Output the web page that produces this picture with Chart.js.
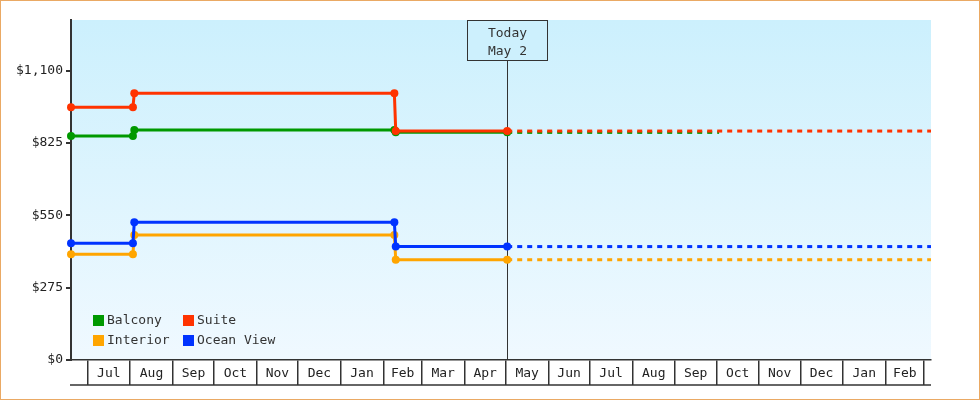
<!DOCTYPE html>
<html>
<head>
<meta charset="utf-8">
<title>Cabin prices</title>
<script src="https://cdn.jsdelivr.net/npm/chart.js@4.4.0/dist/chart.umd.min.js"></script>
<style>
	html, body { margin: 0; padding: 0; background: #fff; }
	#wrap { width: 980px; height: 400px; }
</style>
</head>
<body>
<div id="wrap"><canvas id="cabin-prices" width="980" height="400"></canvas></div>
<script>
"use strict";

// price history, one value per date for each cabin type
var priceDates = ['2017-06-19', '2017-08-03', '2017-08-04', '2018-02-09', '2018-02-10', '2018-05-02'];
var balcony    = [851, 851, 874, 874, 865, 865];
var suite      = [960, 960, 1014, 1014, 870, 870];
var interior   = [402, 402, 475, 475, 381, 381];
var oceanView  = [444, 444, 523, 523, 431, 431];

// dashed projection runs from today to these dates
var seriesNames     = ['Balcony', 'Suite', 'Interior', 'Ocean View'];
var forecastEnds    = ['2018-10-03', '2019-03-06', '2019-03-06', '2019-03-06'];

// axes
var axisStart   = '2017-06-19';
var axisEnd     = '2019-03-06';
var monthLabels = ['Jul', 'Aug', 'Sep', 'Oct', 'Nov', 'Dec', 'Jan', 'Feb', 'Mar', 'Apr',
                   'May', 'Jun', 'Jul', 'Aug', 'Sep', 'Oct', 'Nov', 'Dec', 'Jan', 'Feb'];
var yTicks      = [0, 275, 550, 825, 1100];
var yMax        = 1292;

var todayDate  = '2018-05-02';
var todayLines = ['Today', 'May 2'];

var seriesColors = ['#009900', '#ff3300', '#ffa500', '#0033ff'];
var seriesValues = [balcony, suite, interior, oceanView];
var seriesOrder  = [1, 0, 3, 2];   // suite over balcony, ocean view over interior

var FONT = '13px "DejaVu Sans Mono", "Liberation Mono", monospace';
var INK = '#333';

var DAY = 86400000;
var epoch = Date.parse('2017-07-01');
function toDay(s) { return (Date.parse(s) - epoch) / DAY; }

// month boundaries (grid lines) and month middles (labels)
var boundaries = [];
for (var m = 0; m <= monthLabels.length; m++) {
	boundaries.push((Date.UTC(2017, 6 + m, 1) - epoch) / DAY);
}
var xTickValues = [], xTickLabels = [], xTickIsLine = [];
for (var i = 0; i < boundaries.length; i++) {
	xTickValues.push(boundaries[i]); xTickLabels.push(''); xTickIsLine.push(true);
	if (i < monthLabels.length) {
		xTickValues.push((boundaries[i] + boundaries[i + 1]) / 2);
		xTickLabels.push(monthLabels[i]); xTickIsLine.push(false);
	}
}

var datasets = [];
seriesNames.forEach(function(name, s) {
	var vals = seriesValues[s];
	datasets.push({
		label: name,
		data: priceDates.map(function(d, k) { return { x: toDay(d), y: vals[k] }; }),
		borderColor: seriesColors[s],
		backgroundColor: seriesColors[s],
		borderWidth: 3,
		pointRadius: 4,
		pointHoverRadius: 4,
		pointBorderWidth: 0,
		pointBackgroundColor: seriesColors[s],
		tension: 0,
		clip: false,
		order: seriesOrder[s]
	});
	var last = vals[vals.length - 1];
	datasets.push({
		label: name + ' forecast',
		data: [{ x: toDay(todayDate), y: last }, { x: toDay(forecastEnds[s]), y: last }],
		borderColor: seriesColors[s],
		borderWidth: 3,
		borderDash: [5, 5],
		pointRadius: 0,
		tension: 0,
		clip: false,
		order: seriesOrder[s]
	});
});

// plot background, outer frame and the bottom line of the month strip
var framePlugin = {
	id: 'frame',
	beforeDraw: function(chart) {
		var ctx = chart.ctx, a = chart.chartArea;
		ctx.save();
		ctx.fillStyle = '#fff';
		ctx.fillRect(0, 0, chart.width, chart.height);
		var g = ctx.createLinearGradient(0, a.top, 0, a.bottom);
		g.addColorStop(0, '#ccf0fd');
		g.addColorStop(1, '#f0f9ff');
		ctx.fillStyle = g;
		ctx.fillRect(a.left, a.top, a.right - a.left, a.bottom - a.top);
		ctx.restore();
	},
	afterDraw: function(chart) {
		var ctx = chart.ctx, a = chart.chartArea;
		ctx.save();
		ctx.strokeStyle = INK;
		ctx.lineWidth = 1.5;
		ctx.beginPath();
		ctx.moveTo(a.left - 1, a.bottom + 25);
		ctx.lineTo(a.right, a.bottom + 25);
		ctx.stroke();
		ctx.strokeStyle = '#eaa964';
		ctx.lineWidth = 1;
		ctx.strokeRect(0.5, 0.5, chart.width - 1, chart.height - 1);
		ctx.restore();
	}
};

// "Today" marker behind the lines
var todayPlugin = {
	id: 'today',
	beforeDatasetsDraw: function(chart) {
		var ctx = chart.ctx, a = chart.chartArea;
		var x = Math.round(chart.scales.x.getPixelForValue(toDay(todayDate))) + 0.5;
		var top = a.top + 0.5, w = 80, h = 40;
		ctx.save();
		ctx.strokeStyle = INK;
		ctx.lineWidth = 1;
		ctx.beginPath();
		ctx.moveTo(x, top + h);
		ctx.lineTo(x, a.bottom);
		ctx.stroke();
		ctx.fillStyle = '#cdf0fd';
		ctx.fillRect(x - w / 2, top, w, h);
		ctx.strokeRect(x - w / 2, top, w, h);
		ctx.fillStyle = INK;
		ctx.font = FONT;
		ctx.textAlign = 'center';
		ctx.textBaseline = 'middle';
		ctx.fillText(todayLines[0], x, top + 13);
		ctx.fillText(todayLines[1], x, top + 31);
		ctx.restore();
	}
};

// legend inside the plot, two columns
var legendPlugin = {
	id: 'innerLegend',
	afterDraw: function(chart) {
		var ctx = chart.ctx, a = chart.chartArea;
		ctx.save();
		ctx.font = FONT;
		ctx.textBaseline = 'middle';
		ctx.textAlign = 'left';
		seriesNames.forEach(function(name, s) {
			var bx = a.left + 22 + (s % 2) * 90;
			var by = a.bottom - 45 + Math.floor(s / 2) * 20;
			ctx.fillStyle = seriesColors[s];
			ctx.fillRect(bx, by, 11, 11);
			ctx.fillStyle = INK;
			ctx.fillText(name, bx + 14, by + 6);
		});
		ctx.restore();
	}
};

var chart = new Chart(document.getElementById('cabin-prices').getContext('2d'), {
	type: 'line',
	data: { datasets: datasets },
	options: {
		responsive: false,
		animation: false,
		events: [],
		layout: { padding: { top: 20, right: 49, left: 0, bottom: 0 }, autoPadding: false },
		plugins: { legend: { display: false }, tooltip: { enabled: false } },
		scales: {
			x: {
				type: 'linear',
				min: toDay(axisStart),
				max: toDay(axisEnd),
				afterFit: function(s) { s.height = 40; },
				afterBuildTicks: function(s) {
					s.ticks = xTickValues.map(function(v) { return { value: v }; });
				},
				grid: {
					drawOnChartArea: false,
					drawTicks: true,
					tickLength: 25,
					lineWidth: 1.5,
					color: function(c) { return xTickIsLine[c.index] ? INK : 'rgba(0,0,0,0)'; }
				},
				border: { display: true, color: INK, width: 1.5 },
				ticks: {
					autoSkip: false,
					maxRotation: 0,
					padding: -19,
					color: '#222',
					font: { family: '"DejaVu Sans Mono", monospace', size: 13 },
					callback: function(v, idx) { return xTickLabels[idx]; }
				}
			},
			y: {
				min: 0,
				max: yMax,
				afterFit: function(s) { s.width = 71; },
				afterBuildTicks: function(s) {
					s.ticks = yTicks.map(function(v) { return { value: v }; });
				},
				grid: { drawOnChartArea: false, tickLength: 5, color: INK, lineWidth: 2 },
				border: { display: true, color: INK, width: 2 },
				ticks: {
					padding: 3,
					color: '#222',
					font: { family: '"DejaVu Sans Mono", monospace', size: 13 },
					callback: function(v) { return '$' + Number(v).toLocaleString('en-US'); }
				}
			}
		}
	},
	plugins: [framePlugin, todayPlugin, legendPlugin]
});
</script>
</body>
</html>
